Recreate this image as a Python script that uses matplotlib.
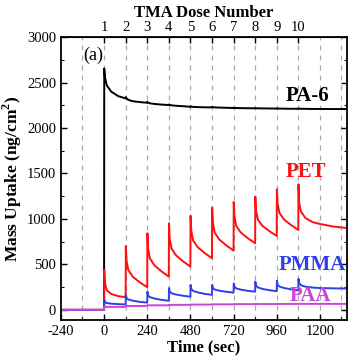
import matplotlib
matplotlib.use('Agg')
import matplotlib.pyplot as plt
from matplotlib.ticker import MultipleLocator

# dose times (sec) and sample offsets after each dose
dose_times = [0, 120, 240, 360, 480, 600, 720, 840, 960, 1080]
dose_labels = ['1', '2', '3', '4', '5', '6', '7', '8', '9', '10']
offsets = [0, 1, 5, 15, 40, 80]
tail_times = [1200, 1270, 1350]

# values at each offset, one row per dose
pa6 = [[0, 2655, 2560, 2470, 2400, 2350],
       [2326, 2340, 2325, 2310, 2295, 2285],
       [2278, 2288, 2280, 2272, 2265, 2258],
       [2253, 2260, 2255, 2250, 2245, 2240],
       [2234, 2240, 2236, 2233, 2230, 2228],
       [2227, 2232, 2229, 2227, 2225, 2223],
       [2220, 2224, 2222, 2220, 2219, 2218],
       [2217, 2220, 2218, 2217, 2216, 2215],
       [2214, 2217, 2215, 2214, 2213, 2212],
       [2212, 2215, 2213, 2212, 2211, 2210]]
pa6_tail = [2210, 2209, 2209]

pet = [[0, 440, 290, 215, 175, 150],
       [140, 703, 543, 437, 364, 300],
       [250, 843, 676, 566, 490, 423],
       [366, 953, 786, 676, 600, 533],
       [476, 1036, 872, 765, 690, 624],
       [568, 1124, 959, 850, 775, 709],
       [652, 1187, 1028, 924, 851, 787],
       [733, 1245, 1094, 994, 925, 865],
       [813, 1326, 1170, 1067, 995, 933],
       [879, 1381, 1180, 1080, 1010, 965]]
pet_tail = [945, 918, 900]

pmma = [[0, 110, 85, 75, 68, 63],
        [60, 165, 131, 114, 101, 88],
        [80, 200, 160, 140, 125, 110],
        [100, 240, 202, 183, 169, 155],
        [145, 275, 231, 209, 193, 176],
        [165, 275, 241, 224, 211, 199],
        [190, 290, 254, 236, 223, 209],
        [200, 310, 268, 247, 231, 216],
        [205, 320, 278, 257, 241, 226],
        [215, 340, 295, 270, 255, 245]]
pmma_tail = [240, 237, 235]

paa = [[0, 35, 34, 33, 33, 33],
       [33, 45, 44, 43, 43, 43],
       [43, 52, 51, 50, 50, 50],
       [50, 56, 55, 55, 55, 55],
       [55, 59, 58, 58, 58, 58],
       [58, 62, 61, 61, 61, 61],
       [61, 64, 63, 63, 63, 63],
       [63, 65, 64, 64, 64, 64],
       [64, 66, 65, 65, 65, 65],
       [65, 67, 66, 66, 66, 66]]
paa_tail = [66, 66, 66]

grid_x = [-120, 0, 120, 240, 360, 480, 600, 720, 840, 960, 1080, 1200, 1320]


def series(rows, tail):
    t = [-240]
    v = [0]
    for T, row in zip(dose_times, rows):
        for o, val in zip(offsets, row):
            t.append(T + o)
            v.append(val)
    return t + tail_times, v + tail


plt.rcParams['font.family'] = ['Liberation Serif']
plt.rcParams['axes.unicode_minus'] = False
plt.rcParams['mathtext.fontset'] = 'custom'
plt.rcParams['mathtext.rm'] = 'Liberation Serif'
plt.rcParams['mathtext.bf'] = 'Liberation Serif:bold'

fig = plt.figure(figsize=(3.5, 3.57), dpi=100)
ax = fig.add_axes([0.174, 0.104, 0.817, 0.792])

for gx in grid_x:
    ax.axvline(gx, color='#aaaaaa', lw=0.9, ls=(0, (4, 4)), zorder=0)

curves = [(pa6, pa6_tail, 'black'), (pet, pet_tail, '#ff1010'),
          (pmma, pmma_tail, '#3040e8'), (paa, paa_tail, '#cc44dd')]
for rows, tail, c in curves:
    t, v = series(rows, tail)
    ax.plot(t, v, color=c, lw=1.4)

ax.set_xlim(-240, 1350)
ax.set_ylim(-110, 3000)
ax.set_xticks([-240, 0, 240, 480, 720, 960, 1200])
ax.set_yticks([0, 500, 1000, 1500, 2000, 2500, 3000])
ax.xaxis.set_minor_locator(MultipleLocator(120))
ax.yaxis.set_minor_locator(MultipleLocator(250))
ax.tick_params(which='major', direction='in', length=4, width=1, labelsize=10.5, right=True, top=False)
ax.tick_params(which='minor', direction='in', length=2, width=0.8, right=True, top=False)
for s in ax.spines.values():
    s.set_linewidth(1.3)

ax.set_xlabel('Time (sec)', fontsize=12, fontweight='bold', labelpad=1)
ax.set_ylabel('Mass Uptake (ng/cm$^\\mathbf{2}$)', fontsize=12.5, fontweight='bold', labelpad=2)

top = ax.secondary_xaxis('top')
top.set_xticks(dose_times)
top.set_xticklabels(dose_labels)
top.tick_params(direction='in', length=4, width=1, labelsize=10.5, pad=2)
top.set_xlabel('TMA Dose Number', fontsize=12, fontweight='bold', labelpad=3)

ax.text(1131, 2300, 'PA-6', color='black', fontsize=15, fontweight='bold', ha='center', va='baseline')
ax.text(1125, 1465, 'PET', color='#ff1010', fontsize=15, fontweight='bold', ha='center', va='baseline')
ax.text(1157, 439, 'PMMA', color='#3040e8', fontsize=15, fontweight='bold', ha='center', va='baseline')
ax.text(1148, 100, 'PAA', color='#cc44dd', fontsize=15, fontweight='bold', ha='center', va='baseline')
ax.text(-60, 2745, '(a)', color='black', fontsize=13, ha='center', va='baseline')

fig.savefig('out.png', dpi=100)
